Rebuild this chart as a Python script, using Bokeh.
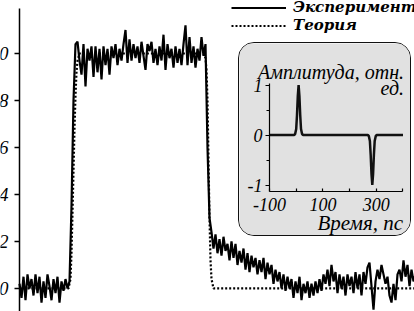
from bokeh.plotting import figure
from bokeh.models import FixedTicker, Legend, LegendItem, Label, Range1d
from bokeh.layouts import column
from bokeh.embed import file_html
from bokeh.resources import INLINE

# ---------------- data ----------------
SAMPLE_STEP_PS = 4  # sampling step of the measured trace

experiment = [
    0.02, -0.04, 0.05, -0.05, 0.06, 0.00, 0.04, -0.03, 0.06, -0.02,
    0.05, -0.06, 0.03, -0.04, 0.06, 0.01, -0.05, 0.04, -0.02, 0.05,
    -0.06, 0.03, -0.01, 0.04, 0.00, 0.03,
    0.35, 0.80, 1.04, 1.05, 0.97, 0.91, 1.04, 0.86, 1.02, 0.97,
    1.03, 0.90, 1.03, 0.92, 1.02, 0.89, 1.03, 0.95, 1.02, 0.91,
    1.03, 0.98, 1.04, 0.95, 1.02, 0.97, 1.04, 1.10, 0.96, 1.06,
    0.97, 1.04, 0.98, 1.03, 0.96, 1.05, 0.99, 0.93, 1.04, 1.01,
    1.05, 0.96, 1.02, 0.95, 1.03, 0.97, 1.08, 0.93, 1.04, 0.98,
    1.02, 0.94, 1.03, 0.96, 1.02, 0.95, 1.04, 1.12, 0.95, 1.07,
    0.96, 1.03, 0.94, 1.02, 0.97, 1.07, 0.99, 1.04,
    0.60, 0.30,
    0.24, 0.17, 0.23, 0.15, 0.21, 0.14, 0.22, 0.16, 0.19, 0.12,
    0.20, 0.13, 0.19, 0.10, 0.16, 0.11, 0.17, 0.08, 0.15, 0.07,
    0.14, 0.09, 0.13, 0.06, 0.12, 0.07, 0.13, 0.04, 0.11, 0.06,
    0.10, 0.02, 0.08, 0.03, 0.07, 0.00, 0.06, -0.01, 0.05, 0.00,
    0.04, -0.04, 0.03, -0.02, 0.05, -0.05, 0.02, -0.02, 0.03, -0.04,
    0.02, -0.03, 0.03, -0.02, 0.04, -0.01, 0.06, 0.02, 0.08, 0.01,
    0.10, 0.03, 0.07, -0.02, 0.06, 0.00, 0.05, -0.03, 0.06, 0.01,
    0.05, -0.02, 0.07, 0.00, 0.06, -0.03, 0.07, 0.02, 0.09, 0.11,
    0.01, -0.09, 0.03, 0.08, 0.04, 0.10, 0.06, 0.02, 0.05, -0.03,
    -0.06, 0.02, -0.05, 0.06, 0.08, 0.03, 0.12, 0.05, 0.10, 0.01,
    0.08, 0.03, 0.06,
]
time_exp = [i * SAMPLE_STEP_PS for i in range(len(experiment))]

theory_time = [0, 98, 102, 104, 106, 108, 110, 112, 114, 116, 120,
               368, 372, 374, 376, 378, 380, 382, 384, 388, 792]
theory = [0, 0, 0.04, 0.15, 0.32, 0.5, 0.68, 0.82, 0.92, 0.97, 1.0,
          1.0, 0.98, 0.93, 0.8, 0.55, 0.3, 0.12, 0.04, 0, 0]

main_yticks = [0.0, 0.2, 0.4, 0.6, 0.8, 1.0]
main_ytick_labels = ["0,0", "0,2", "0,4", "0,6", "0,8", "1,0"]
main_yaxis_bounds = (-0.098, 1.191)

inset_time = [-100, -8, -4, 0, 3, 6, 9, 12, 15, 18, 22, 26,
              268, 272, 276, 279, 282, 285, 288, 291, 294, 298, 302, 400]
inset_amp = [0, 0, 0.02, 0.12, 0.4, 0.78, 1.0, 0.78, 0.4, 0.12, 0.02, 0,
             0, -0.02, -0.12, -0.4, -0.78, -1.0, -0.78, -0.4, -0.12, -0.02, 0, 0]
inset_xticks = [-100, 100, 300]
inset_xtick_labels = ["-100", "100", "300"]
inset_xminor = [0, 200, 400]
inset_yticks = [-1, 0, 1]
inset_ytick_labels = ["-1", "0", "1"]
inset_yminor = [-0.5, 0.5]
inset_xbounds = (-100, 400)
inset_ybounds = (-1.12, 1.04)

legend_labels = ["Эксперимент", "Теория"]
inset_ylabel = ["Амплитуда, отн.", "ед."]
inset_xlabel = "Время, пс"

SERIF = "Liberation Serif"

# ---------------- main plot ----------------
p = figure(width=414, height=311, x_range=Range1d(-38, 790), y_range=Range1d(-0.098, 1.2255),
           output_backend="svg", toolbar_location=None, x_axis_location=None,
           min_border_left=0, min_border_right=0, min_border_top=0, min_border_bottom=0,
           sizing_mode="fixed")
p.grid.visible = False
p.outline_line_color = None
p.background_fill_color = "white"
ya = p.yaxis[0]
ya.fixed_location = 0
ya.bounds = main_yaxis_bounds
ya.ticker = FixedTicker(ticks=main_yticks, minor_ticks=[])
ya.major_label_overrides = dict(zip(main_yticks, main_ytick_labels))
ya.axis_line_width = 1.5
ya.major_tick_line_width = 1.5
ya.major_tick_out = 5
ya.major_tick_in = 0
ya.major_label_standoff = 6
ya.major_label_text_font = SERIF
ya.major_label_text_font_style = "italic"
ya.major_label_text_font_size = "19px"
ya.major_label_text_color = "black"

r_exp = p.line(time_exp, experiment, line_width=2.2, color="black")
r_th = p.line(theory_time, theory, line_width=2.2, color="black", line_dash="2 2")


def make_legend(label, renderer, loc):
    lg = Legend(items=[LegendItem(label=label, renderers=[renderer])], location=loc,
                border_line_color=None, background_fill_alpha=0, padding=0, margin=0,
                spacing=0, glyph_width=55, glyph_height=15, label_standoff=7,
                label_height=15, label_text_font="DejaVu Serif",
                label_text_font_style="bold italic",
                label_text_font_size="15px", label_text_color="black")
    p.add_layout(lg)


make_legend(legend_labels[0], r_exp, (231, 295))
make_legend(legend_labels[1], r_th, (231, 277))

p.styles = {"position": "absolute", "left": "0px", "top": "0px"}

# ---------------- inset ----------------
q = figure(width=173, height=194, x_range=Range1d(-212.4, 435.6), y_range=Range1d(-2.05, 1.83),
           output_backend="svg", toolbar_location=None,
           min_border_left=0, min_border_right=0, min_border_top=0, min_border_bottom=0,
           background_fill_color="#e1e1e1", border_fill_color="#e1e1e1", sizing_mode="fixed")
q.grid.visible = False
q.outline_line_color = None
xa = q.xaxis[0]
xa.fixed_location = inset_ybounds[0]
xa.bounds = inset_xbounds
xa.ticker = FixedTicker(ticks=inset_xticks, minor_ticks=inset_xminor)
xa.major_label_overrides = {t: "" for t in inset_xticks}   # labels drawn below
xa.major_tick_in = 3
xa.major_tick_out = 0
xa.minor_tick_in = 3
xa.minor_tick_out = 0
yb = q.yaxis[0]
yb.fixed_location = inset_xbounds[0]
yb.bounds = inset_ybounds
yb.ticker = FixedTicker(ticks=inset_yticks, minor_ticks=inset_yminor)
yb.major_label_overrides = dict(zip(inset_yticks, inset_ytick_labels))
yb.major_tick_in = 0
yb.major_tick_out = 4
yb.minor_tick_in = 0
yb.minor_tick_out = 3
yb.major_label_standoff = 3
for ax in (xa, yb):
    ax.axis_line_width = 1.2
    ax.major_tick_line_width = 1.2
    ax.minor_tick_line_width = 1.2
    ax.major_label_text_font = SERIF
    ax.major_label_text_font_style = "italic"
    ax.major_label_text_font_size = "18px"
    ax.major_label_text_color = "black"

q.line(inset_time, inset_amp, line_width=2.5, color="#111111")

# x tick labels of the inset, one Label per tick, baseline just under the axis
for tick, txt in zip(inset_xticks, inset_xtick_labels):
    q.add_layout(Label(x=tick, y=inset_ybounds[0], y_offset=-13, text=txt,
                       text_font=SERIF, text_font_style="italic", text_font_size="18px",
                       text_color="black", text_align="center", text_baseline="alphabetic"))

lab_kw = dict(text_font=SERIF, text_font_style="italic", text_font_size="20px",
              text_color="black", text_align="right", text_baseline="alphabetic")
q.add_layout(Label(x=404, y=1.26, text=inset_ylabel[0], **lab_kw))
q.add_layout(Label(x=404, y=0.95, text=inset_ylabel[1], **lab_kw))
q.add_layout(Label(x=400, y=-1.76, text=inset_xlabel, **dict(lab_kw, text_font_size="21px")))

q.styles = {"position": "absolute", "left": "238px", "top": "42px",
            "border": "1.5px solid #111", "border-radius": "16px", "overflow": "hidden"}

root = column(p, q, width=414, height=311, sizing_mode="fixed")
root.styles = {"position": "relative", "overflow": "hidden"}

open("out.html", "w").write(file_html(root, INLINE))
